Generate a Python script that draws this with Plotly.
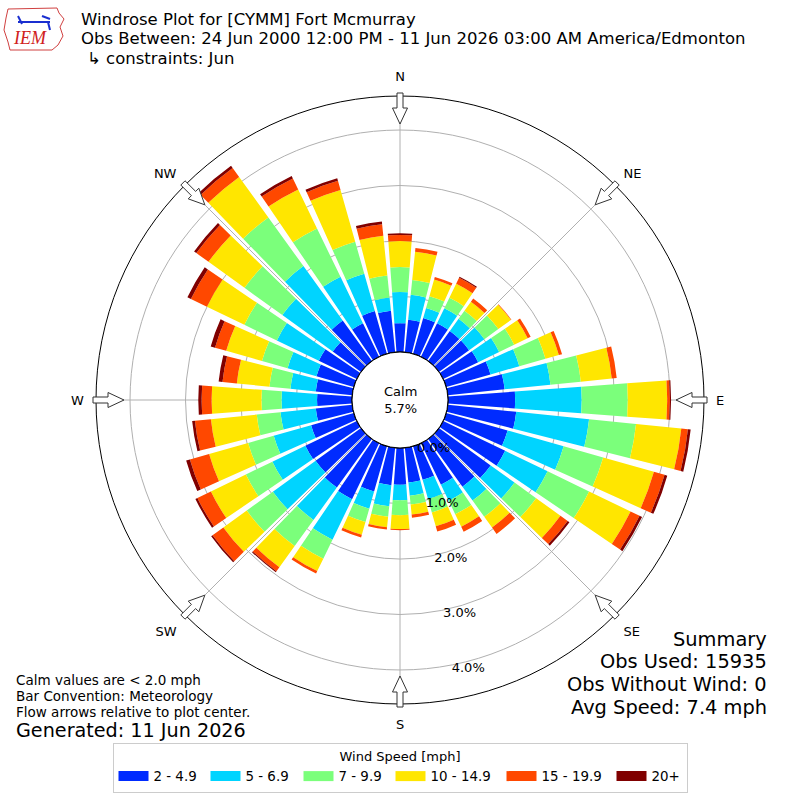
import plotly.graph_objects as go
import math

# ---------------- data ----------------
directions = list(range(0, 360, 10))
speed_bins = ["2 - 4.9", "5 - 6.9", "7 - 9.9", "10 - 14.9", "15 - 19.9", "20+"]
bin_colors = ["#002bff", "#00d4ff", "#7bff7b", "#ffe600", "#ff4800", "#800000"]

# percent of observations per direction (0..350 step 10) for each speed bin
pct_2_5 = [0.52, 0.59, 0.67, 0.67, 0.67, 0.67, 0.70, 0.83, 1.03, 1.21, 1.24, 1.15,
           1.24, 1.15, 1.06, 0.83, 0.63, 0.63, 0.66, 0.68, 0.85, 1.12, 1.08, 1.01,
           1.03, 0.80, 0.66, 0.63, 0.66, 0.70, 0.76, 0.63, 0.90, 0.67, 0.80, 0.75]
pct_5_7 = [0.56, 0.45, 0.19, 0.30, 0.27, 0.34, 0.42, 0.54, 0.83, 1.20, 1.32, 1.05,
           0.85, 0.53, 0.31, 0.32, 0.36, 0.24, 0.28, 0.38, 0.32, 0.81, 0.72, 0.95,
           0.66, 0.70, 0.64, 0.64, 0.46, 0.54, 0.84, 1.12, 1.21, 0.93, 0.70, 0.24]
pct_7_10 = [0.45, 0.27, 0.22, 0.21, 0.18, 0.31, 0.30, 0.49, 0.55, 0.83, 0.85, 0.74,
            0.83, 0.48, 0.36, 0.27, 0.25, 0.16, 0.27, 0.19, 0.25, 0.38, 0.58, 0.58,
            0.53, 0.48, 0.43, 0.36, 0.38, 0.48, 0.65, 0.84, 1.08, 0.97, 0.60, 0.40]
pct_10_15 = [0.47, 0.51, 0.31, 0.28, 0.20, 0.28, 0.27, 0.25, 0.56, 0.71, 0.82, 0.95,
             0.83, 0.54, 0.24, 0.25, 0.26, 0.18, 0.25, 0.19, 0.24, 0.25, 0.47, 0.52,
             0.70, 0.73, 0.83, 0.90, 0.59, 0.67, 0.75, 0.80, 0.90, 0.78, 0.97, 0.72]
pct_15_20 = [0.11, 0.07, 0.05, 0.12, 0.07, 0.01, 0.06, 0.06, 0.09, 0.05, 0.12, 0.20,
             0.18, 0.16, 0.14, 0.10, 0.10, 0.06, 0.02, 0.04, 0.05, 0.05, 0.09, 0.24,
             0.27, 0.36, 0.29, 0.18, 0.26, 0.21, 0.32, 0.27, 0.20, 0.22, 0.17, 0.21]
pct_20p = [0.03, 0.00, 0.00, 0.02, 0.00, 0.00, 0.00, 0.00, 0.00, 0.02, 0.05, 0.05,
           0.05, 0.04, 0.00, 0.00, 0.00, 0.00, 0.00, 0.00, 0.00, 0.00, 0.02, 0.03,
           0.04, 0.07, 0.05, 0.06, 0.07, 0.08, 0.07, 0.05, 0.05, 0.05, 0.05, 0.05]
series = [pct_2_5, pct_5_7, pct_7_10, pct_10_15, pct_15_20, pct_20p]

compass_vals = [0, 45, 90, 135, 180, 225, 270, 315]
compass_labels = ["N", "NE", "E", "SE", "S", "SW", "W", "NW"]
radial_ticks = [0, 1, 2, 3, 4]
radial_ticktext = ["0.0%", "1.0%", "2.0%", "3.0%", "4.0%"]
calm_pct = 5.7

title_lines = [
    "Windrose Plot for [CYMM] Fort Mcmurray",
    "Obs Between: 24 Jun 2000 12:00 PM - 11 Jun 2026 03:00 AM America/Edmonton",
    "\u21b3 constraints: Jun",
]
left_notes = ["Calm values are < 2.0 mph", "Bar Convention: Meteorology",
              "Flow arrows relative to plot center."]
generated = "Generated: 11 Jun 2026"
summary_lines = ["Summary", "Obs Used: 15935", "Obs Without Wind: 0", "Avg Speed: 7.4 mph"]

# ---------------- layout geometry ----------------
W = H = 800
CX, CY = 400.0, 400.0
R_OUT = 304.0
R_HOLE = 48.0
RMAX = 4.613
FONT = "DejaVu Sans"
LEG_W = [47, 48, 47, 66, 65, 30]

fig = go.Figure()

for name, vals, col in zip(speed_bins, series, bin_colors):
    fig.add_trace(go.Barpolar(
        r=vals, theta=directions, width=8.4, name=name,
        marker=dict(color=col, line=dict(width=0)),
        showlegend=False, hoverinfo="skip"))

# black ring around the calm hole
fig.add_trace(go.Scatterpolar(
    r=[0] * 73, theta=list(range(0, 365, 5)), mode="lines",
    line=dict(color="black", width=1.2), showlegend=False, hoverinfo="skip"))

# legend proxies (wide rectangle symbols)
for name, col, lw in zip(speed_bins, bin_colors, LEG_W):
    fig.add_trace(go.Scatterpolar(
        r=[None], theta=[None], mode="lines", name=name, legendwidth=lw,
        line=dict(color=col, width=10), showlegend=True))


def px(x, y):
    return x / W, 1 - y / H


shapes = []
# hollow arrows at the eight compass points
for a in compass_vals:
    t = math.radians(a)
    ux, uy = math.sin(t), -math.cos(t)
    pxv, pyv = math.cos(t), math.sin(t)
    pts = [(307, -3), (292, -3), (292, -7.5), (276, 0), (292, 7.5), (292, 3), (307, 3)]
    path = ""
    for i, (rr, ww) in enumerate(pts):
        x = CX + rr * ux + ww * pxv
        y = CY + rr * uy + ww * pyv
        X, Y = px(x, y)
        path += ("M" if i == 0 else "L") + f"{X:.5f},{Y:.5f}"
    path += "Z"
    shapes.append(dict(type="path", path=path, xref="paper", yref="paper",
                       fillcolor="white", line=dict(color="#333333", width=1),
                       layer="above"))

# IEM logo approximation
iowa = [(8, 9), (57, 8), (59, 13), (64, 19), (60, 27), (63, 36), (58, 45),
        (52, 50), (10, 50), (8, 42), (4, 30), (6, 18)]
path = ""
for i, (x, y) in enumerate(iowa):
    X, Y = px(x, y)
    path += ("M" if i == 0 else "L") + f"{X:.5f},{Y:.5f}"
path += "Z"
shapes.append(dict(type="path", path=path, xref="paper", yref="paper",
                   line=dict(color="#d04040", width=1), fillcolor="rgba(0,0,0,0)"))
for (x0, y0, x1, y1) in [(18, 22, 50, 22), (18, 16, 22, 24), (42, 16, 50, 19), (48, 22, 50, 30)]:
    X0, Y0 = px(x0, y0)
    X1, Y1 = px(x1, y1)
    shapes.append(dict(type="line", x0=X0, y0=Y0, x1=X1, y1=Y1, xref="paper", yref="paper",
                       line=dict(color="#1a2fd0", width=2)))

ann = []
ann.append(dict(text="<i>IEM</i>", x=30 / W, y=1 - 38 / H, xref="paper", yref="paper",
                showarrow=False, font=dict(family="Liberation Serif", size=18, color="#d02020"),
                xanchor="center", yanchor="middle"))
for i, t in enumerate(title_lines):
    ann.append(dict(text=t, x=(79 if i < 2 else 85) / W, y=1 - (19.5 + 19.3 * i) / H,
                    xref="paper", yref="paper", showarrow=False, xanchor="left",
                    yanchor="middle", font=dict(family=FONT, size=16.5, color="black")))
ann.append(dict(text=f"Calm<br>{calm_pct:.1f}%", x=0.5, y=0.5, xref="paper", yref="paper",
                showarrow=False, font=dict(family=FONT, size=13, color="black")))
for i, t in enumerate(left_notes):
    ann.append(dict(text=t, x=14 / W, y=1 - (680.3 + 15.8 * i) / H, xref="paper", yref="paper",
                    showarrow=False, xanchor="left", yanchor="middle",
                    font=dict(family=FONT, size=13.5, color="black")))
ann.append(dict(text=generated, x=14 / W, y=1 - 730.5 / H, xref="paper", yref="paper",
                showarrow=False, xanchor="left", yanchor="middle",
                font=dict(family=FONT, size=19.2, color="black")))
for i, t in enumerate(summary_lines):
    ann.append(dict(text=t, x=769 / W, y=1 - (639 + 22.8 * i) / H, xref="paper", yref="paper",
                    showarrow=False, xanchor="right", yanchor="middle",
                    font=dict(family=FONT, size=19.4, color="black")))

fig.update_layout(
    width=W, height=H, margin=dict(l=0, r=0, t=0, b=0, pad=0),
    paper_bgcolor="white", plot_bgcolor="white",
    font=dict(family=FONT, size=13, color="black"),
    polar=dict(
        domain=dict(x=[(CX - R_OUT) / W, (CX + R_OUT) / W],
                    y=[1 - (CY + R_OUT) / H, 1 - (CY - R_OUT) / H]),
        hole=R_HOLE / R_OUT,
        bgcolor="white",
        barmode="stack",
        radialaxis=dict(range=[0, RMAX], tickvals=radial_ticks, ticktext=radial_ticktext,
                        showline=False, ticks="", gridcolor="#b0b0b0", gridwidth=1,
                        angle=-81, tickangle=-81, side="counterclockwise",
                        tickfont=dict(family=FONT, size=13)),
        angularaxis=dict(rotation=90, direction="clockwise", tickvals=compass_vals,
                         ticktext=compass_labels, showline=True, linecolor="black",
                         linewidth=1, gridcolor="#b0b0b0", gridwidth=1,
                         ticks="outside", ticklen=9, tickcolor="rgba(0,0,0,0)",
                         tickfont=dict(family=FONT, size=13)),
    ),
    legend=dict(orientation="h", x=0.5, xanchor="center", y=1 - 743 / H, yanchor="top",
                bordercolor="#cccccc", borderwidth=1, bgcolor="white",
                title=dict(text="Wind Speed [mph]", side="top center",
                           font=dict(family=FONT, size=13)),
                font=dict(family=FONT, size=13.4), itemwidth=30, traceorder="normal"),
    shapes=shapes, annotations=ann,
)

fig.write_html("out.html", config={"displayModeBar": False},
               post_script="document.body.style.margin='0';document.body.style.overflow='hidden';")
